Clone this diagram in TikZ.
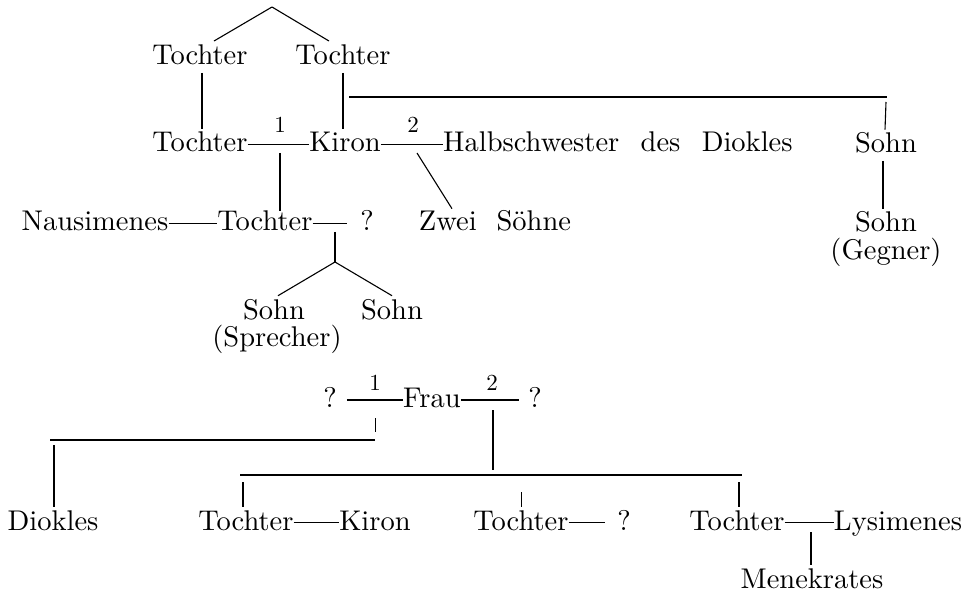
\documentclass[tikz,border=0pt]{standalone}
\newcommand{\tx}[1]{\scalebox{2.85}{#1}}
\newcommand{\nm}[1]{\scalebox{2.3}{#1}}
\begin{document}
\begin{tikzpicture}[x=1pt,y=-1pt,
  txt/.style={font=\fontsize{10}{12}\selectfont, inner sep=0pt, anchor=base},
  num/.style={font=\fontsize{10}{12}\selectfont, inner sep=0pt, anchor=base},
  ln/.style={line width=1.1pt}]
\useasboundingbox (0,0) rectangle (977,593);
% ---------- upper tree ----------
\node[txt] (t1) at (200,65) {\tx{Tochter}};
\node[txt] (t2) at (343,65) {\tx{Tochter}};
\node[txt] (t3) at (200,152) {\tx{Tochter}};
\node[txt] (k1) at (345,152) {\tx{Kiron}};
\node[txt, anchor=base west] (hs) at (443,152) {\tx{Halbschwester\hspace{0.75em}des\hspace{0.75em}Diokles}};
\node[num] (one1) at (280,133) {\nm{1}};
\node[num] (two1) at (413,133) {\nm{2}};
\node[txt] (s1) at (886,153) {\tx{Sohn}};
\node[txt] (s2) at (886,232) {\tx{Sohn}};
\node[txt] (g) at (886,260) {\tx{(Gegner)}};
\node[txt] (na) at (95,231) {\tx{Nausimenes}};
\node[txt] (t4) at (265,231) {\tx{Tochter}};
\node[txt] (q1) at (367,231) {\tx{?}};
\node[txt] (zs) at (495,231) {\tx{Zwei\hspace{0.7em}Söhne}};
\node[txt] (sp1) at (274,320) {\tx{Sohn}};
\node[txt] (spr) at (277,347) {\tx{(Sprecher)}};
\node[txt] (so2) at (392,320) {\tx{Sohn}};
\coordinate (apex) at (272,7);
\coordinate (bar1l) at (349,97);
\coordinate (bar1r) at (887,97);
\coordinate (m1) at (280,153);
\coordinate (m2) at (417,153);
\coordinate (m3) at (335,232);
\coordinate (fork) at (335,262);
% connectors
\draw[ln] (apex) -- ([xshift=14pt,yshift=4pt]t1.north);
\draw[ln] (apex) -- ([xshift=-14pt,yshift=4pt]t2.north);
\draw[ln] ([xshift=2pt,yshift=-8pt]t1.base) -- ([xshift=2pt,yshift=3pt]t3.north);
\draw[ln] ([yshift=-8pt]t2.base) -- ([xshift=-2pt,yshift=3pt]k1.north);
\draw[ln] (bar1l) -- (bar1r);
\draw[ln] ([xshift=-1pt,yshift=-5pt]bar1r) -- ([xshift=-1pt,yshift=3pt]s1.north);
\draw[ln] ([yshift=7.5pt]t3.base east) -- ([yshift=7.5pt]k1.base west);
\draw[ln] ([yshift=7.5pt]k1.base east) -- ([yshift=7.5pt]hs.base west);
\draw[ln] (m1) -- (m1 |- t4.north);
\draw[ln] (m2) -- ([xshift=-43pt,yshift=2pt]zs.north);
\draw[ln] ([yshift=7.5pt]na.base east) -- ([yshift=7.5pt]t4.base west);
\draw[ln] ([yshift=7.5pt]t4.base east) -- ([xshift=-13pt,yshift=7.5pt]q1.base west);
\draw[ln] (m3) -- (fork);
\draw[ln] (fork) -- ([xshift=4pt,yshift=4pt]sp1.north);
\draw[ln] (fork) -- ([yshift=4pt]so2.north);
\draw[ln] ([xshift=-3pt,yshift=-8pt]s1.base) -- ([xshift=-3pt,yshift=3pt]s2.north);
% ---------- lower tree ----------
\node[txt] (q2) at (330,407) {\tx{?}};
\node[txt] (fr) at (432,407) {\tx{Frau}};
\node[txt] (q3) at (535,407) {\tx{?}};
\node[num] (one2) at (375,390) {\nm{1}};
\node[num] (two2) at (492,390) {\nm{2}};
\node[txt] (di) at (53,530) {\tx{Diokles}};
\node[txt] (t5) at (246,530) {\tx{Tochter}};
\node[txt] (k2) at (375,530) {\tx{Kiron}};
\node[txt] (t6) at (521,530) {\tx{Tochter}};
\node[txt] (q4) at (624,530) {\tx{?}};
\node[txt] (t7) at (737,530) {\tx{Tochter}};
\node[txt] (ly) at (898,530) {\tx{Lysimenes}};
\node[txt] (me) at (812,588) {\tx{Menekrates}};
\coordinate (m4) at (375,418);
\coordinate (m4b) at (375,432);
\coordinate (bar2l) at (50,440);
\coordinate (bar2r) at (375,440);
\coordinate (m5) at (493,410);
\coordinate (m5b) at (493,470);
\coordinate (bar3l) at (240,475);
\coordinate (bar3r) at (742,475);
\coordinate (m6) at (811,532);
\coordinate (dv) at (54,445);
\coordinate (v5) at (243,482);
\coordinate (v6) at (521,492);
\coordinate (v7) at (739,482);
\draw[ln] ([xshift=10pt,yshift=7pt]q2.base east) -- ([yshift=7pt]fr.base west);
\draw[ln] ([yshift=7pt]fr.base east) -- ([xshift=-9pt,yshift=7pt]q3.base west);
\draw[line width=0.6pt] (m4) -- (m4b);
\draw[ln] (bar2l) -- (bar2r);
\draw[ln] (dv) -- ([xshift=1pt,yshift=3pt]di.north);
\draw[ln] (m5) -- (m5b);
\draw[ln] (bar3l) -- (bar3r);
\draw[ln] (v5) -- ([xshift=-3pt,yshift=3pt]t5.north);
\draw[line width=0.7pt] (v6) -- ([yshift=3pt]t6.north);
\draw[ln] (v7) -- ([xshift=2pt,yshift=3pt]t7.north);
\draw[ln] ([yshift=7.5pt]t5.base east) -- ([yshift=7.5pt]k2.base west);
\draw[ln] ([yshift=7.5pt]t6.base east) -- ([xshift=-12pt,yshift=7.5pt]q4.base west);
\draw[ln] ([yshift=7.5pt]t7.base east) -- ([yshift=7.5pt]ly.base west);
\draw[ln] (m6) -- ([yshift=3pt]me.north -| m6);
\end{tikzpicture}
\end{document}
